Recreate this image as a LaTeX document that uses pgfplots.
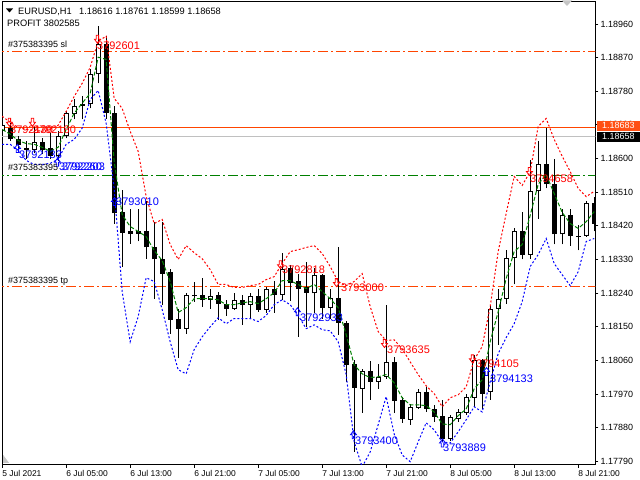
\documentclass[border=0pt]{standalone}
\usepackage{fontspec}
\setmainfont{Liberation Sans}
\usepackage{pgfplots}
\usepackage{pgfplotstable}
\pgfplotsset{compat=1.18}

\definecolor{mtred}{RGB}{255,0,0}
\definecolor{mtblue}{RGB}{0,0,255}
\definecolor{mtgreen}{RGB}{0,128,0}
\definecolor{oranred}{RGB}{255,69,0}
\definecolor{boxorange}{RGB}{255,80,20}
\definecolor{bidgray}{RGB}{192,192,192}

\newcommand\hdr{\fontsize{9.3}{11}\selectfont}
\newcommand\obj{\fontsize{9}{10}\selectfont}
\newcommand\lbl{\fontsize{11}{12}\selectfont}
\newcommand\tck{\fontsize{9}{10}\selectfont}

% trade arrows
\pgfdeclareplotmark{dnarr}{%
  \pgfpathmoveto{\pgfqpoint{-1.2bp}{4bp}}%
  \pgfpathlineto{\pgfqpoint{1.2bp}{4bp}}%
  \pgfpathlineto{\pgfqpoint{1.2bp}{0bp}}%
  \pgfpathlineto{\pgfqpoint{3bp}{0bp}}%
  \pgfpathlineto{\pgfqpoint{0bp}{-4bp}}%
  \pgfpathlineto{\pgfqpoint{-3bp}{0bp}}%
  \pgfpathlineto{\pgfqpoint{-1.2bp}{0bp}}%
  \pgfpathclose\pgfusepathqstroke}
\pgfdeclareplotmark{uparr}{%
  \pgfpathmoveto{\pgfqpoint{-1.2bp}{-4bp}}%
  \pgfpathlineto{\pgfqpoint{1.2bp}{-4bp}}%
  \pgfpathlineto{\pgfqpoint{1.2bp}{0bp}}%
  \pgfpathlineto{\pgfqpoint{3bp}{0bp}}%
  \pgfpathlineto{\pgfqpoint{0bp}{4bp}}%
  \pgfpathlineto{\pgfqpoint{-3bp}{0bp}}%
  \pgfpathlineto{\pgfqpoint{-1.2bp}{0bp}}%
  \pgfpathclose\pgfusepathqstroke}

% H1 bars: open high low close, upper band, middle, lower band
\pgfplotstableread{
i o h l c up mid dn
0 1.18673 1.18697 1.18665 1.18689 1.18713 1.18678 1.18638
1 1.18681 1.18694 1.18648 1.18651 1.18697 1.18665 1.18638
2 1.18651 1.18659 1.18624 1.18635 1.18683 1.18648 1.18622
3 1.18627 1.18646 1.18600 1.18624 1.18678 1.18640 1.18595
4 1.18624 1.18683 1.18614 1.18643 1.18675 1.18638 1.18584
5 1.18643 1.18654 1.18611 1.18624 1.18673 1.18630 1.18584
6 1.18627 1.18667 1.18600 1.18606 1.18678 1.18619 1.18587
7 1.18606 1.18673 1.18592 1.18659 1.18689 1.18630 1.18598
8 1.18659 1.18726 1.18654 1.18721 1.18726 1.18678 1.18638
9 1.18718 1.18758 1.18705 1.18740 1.18766 1.18721 1.18651
10 1.18740 1.18766 1.18705 1.18745 1.18801 1.18748 1.18681
11 1.18745 1.18839 1.18734 1.18825 1.18844 1.18774 1.18758
12 1.18825 1.18954 1.18801 1.18906 1.18914 1.18871 1.18782
13 1.18906 1.18927 1.18707 1.18721 1.18927 1.18865 1.18694
14 1.18723 1.18740 1.18426 1.18453 1.18761 1.18592 1.18520
15 1.18456 1.18517 1.18311 1.18402 1.18734 1.18450 1.18244
16 1.18405 1.18466 1.18372 1.18399 1.18673 1.18418 1.18110
17 1.18399 1.18466 1.18378 1.18405 1.18619 1.18405 1.18177
18 1.18405 1.18485 1.18332 1.18362 1.18498 1.18391 1.18281
19 1.18362 1.18431 1.18225 1.18330 1.18426 1.18354 1.18271
20 1.18330 1.18429 1.18209 1.18292 1.18437 1.18327 1.18196
21 1.18297 1.18305 1.18131 1.18169 1.18370 1.18271 1.18110
22 1.18172 1.18198 1.18067 1.18145 1.18330 1.18188 1.18035
23 1.18145 1.18239 1.18131 1.18236 1.18367 1.18201 1.18024
24 1.18236 1.18271 1.18217 1.18231 1.18348 1.18225 1.18089
25 1.18236 1.18281 1.18204 1.18222 1.18332 1.18225 1.18123
26 1.18222 1.18252 1.18198 1.18233 1.18303 1.18225 1.18150
27 1.18236 1.18244 1.18169 1.18212 1.18263 1.18222 1.18174
28 1.18212 1.18222 1.18180 1.18198 1.18263 1.18209 1.18158
29 1.18198 1.18239 1.18196 1.18222 1.18255 1.18209 1.18172
30 1.18222 1.18236 1.18155 1.18209 1.18255 1.18214 1.18172
31 1.18209 1.18241 1.18174 1.18233 1.18260 1.18217 1.18172
32 1.18233 1.18252 1.18190 1.18196 1.18263 1.18212 1.18164
33 1.18196 1.18255 1.18188 1.18252 1.18276 1.18225 1.18180
34 1.18252 1.18273 1.18188 1.18236 1.18284 1.18241 1.18209
35 1.18236 1.18346 1.18222 1.18305 1.18319 1.18273 1.18222
36 1.18308 1.18316 1.18220 1.18268 1.18351 1.18273 1.18209
37 1.18271 1.18292 1.18123 1.18252 1.18356 1.18263 1.18180
38 1.18255 1.18324 1.18150 1.18241 1.18362 1.18252 1.18145
39 1.18239 1.18308 1.18188 1.18289 1.18367 1.18263 1.18155
40 1.18289 1.18292 1.18172 1.18201 1.18346 1.18244 1.18142
41 1.18201 1.18252 1.18172 1.18228 1.18311 1.18225 1.18139
42 1.18228 1.18364 1.18129 1.18161 1.18271 1.18201 1.18110
43 1.18161 1.18164 1.18003 1.18048 1.18260 1.18129 1.18022
44 1.18051 1.18062 1.17815 1.17987 1.18271 1.18048 1.17842
45 1.17984 1.18038 1.17920 1.18032 1.18292 1.18024 1.17775
46 1.18032 1.18059 1.17955 1.18003 1.18204 1.18014 1.17815
47 1.18003 1.18051 1.17984 1.18016 1.18137 1.18016 1.17888
48 1.18016 1.18209 1.18011 1.18056 1.18113 1.18022 1.17963
49 1.18056 1.18070 1.17920 1.17952 1.18115 1.18000 1.17863
50 1.17955 1.17963 1.17893 1.17904 1.18091 1.17960 1.17807
51 1.17901 1.17944 1.17888 1.17936 1.18056 1.17941 1.17789
52 1.17933 1.17984 1.17930 1.17976 1.18022 1.17941 1.17842
53 1.17976 1.17989 1.17922 1.17930 1.17992 1.17939 1.17893
54 1.17930 1.17941 1.17896 1.17909 1.17971 1.17922 1.17874
55 1.17912 1.17955 1.17842 1.17850 1.17936 1.17890 1.17842
56 1.17850 1.17914 1.17845 1.17909 1.17960 1.17888 1.17839
57 1.17904 1.17930 1.17896 1.17922 1.17968 1.17912 1.17869
58 1.17920 1.17971 1.17914 1.17963 1.17989 1.17930 1.17901
59 1.17960 1.18075 1.17936 1.18062 1.18062 1.17984 1.17936
60 1.18062 1.18064 1.17930 1.17971 1.18097 1.18008 1.17922
61 1.17976 1.18209 1.17955 1.18198 1.18204 1.18110 1.18003
62 1.18198 1.18252 1.18102 1.18225 1.18351 1.18190 1.18078
63 1.18225 1.18356 1.18212 1.18335 1.18453 1.18279 1.18121
64 1.18335 1.18413 1.18263 1.18407 1.18552 1.18351 1.18158
65 1.18407 1.18458 1.18330 1.18343 1.18528 1.18370 1.18217
66 1.18343 1.18595 1.18332 1.18514 1.18565 1.18448 1.18311
67 1.18514 1.18648 1.18439 1.18584 1.18686 1.18531 1.18343
68 1.18584 1.18681 1.18520 1.18531 1.18707 1.18557 1.18386
69 1.18531 1.18598 1.18370 1.18397 1.18651 1.18506 1.18319
70 1.18397 1.18464 1.18370 1.18448 1.18606 1.18456 1.18289
71 1.18448 1.18466 1.18367 1.18394 1.18565 1.18426 1.18260
72 1.18394 1.18423 1.18354 1.18391 1.18520 1.18413 1.18297
73 1.18394 1.18485 1.18391 1.18482 1.18498 1.18431 1.18378
74 1.18482 1.18498 1.18405 1.18426 1.18512 1.18458 1.18386
}\candles

\begin{document}
\begin{tikzpicture}[x=1bp,y=1bp]
\useasboundingbox (0,0) rectangle (640,-480);
\begin{axis}[
    at={(2.7,-0.5)}, anchor=north west,
    scale only axis, width=593.3bp, height=462.8bp,
    xmin=0, xmax=74.16, ymin=1.17781, ymax=1.19019,
    axis line style={black, line width=1bp},
    tick align=outside, major tick length=3bp,
    tick style={black, line width=0.8bp},
    xtick pos=left, ytick pos=right, yticklabel pos=right,
    xtick={0,8,16,24,32,40,48,56,64,72},
    xticklabels={5 Jul 2021, 6 Jul 05:00, 6 Jul 13:00, 6 Jul 21:00, 7 Jul 05:00,
                 7 Jul 13:00, 7 Jul 21:00, 8 Jul 05:00, 8 Jul 13:00, 8 Jul 21:00},
    ytick={1.1779,1.1788,1.1797,1.1806,1.1815,1.1824,1.1833,1.1842,1.1851,1.1860,1.1869,1.1878,1.1887,1.1896},
    yticklabels={1.17790,1.17880,1.17970,1.18060,1.18150,1.18240,1.18330,1.18420,1.18510,1.18600,1.18690,1.18780,1.18870,1.18960},
    xticklabel style={font=\fontsize{8.5}{10}\selectfont, anchor=north west, inner sep=0pt, yshift=-2bp},
    yticklabel style={font=\tck, anchor=west, inner sep=0pt, xshift=2bp},
    candle/.style={draw=none, mark=none,
        error bars/y dir=plus, error bars/y explicit, error bars/error mark=none},
    orderline/.style={line width=1bp, dash pattern=on 10bp off 3bp on 2bp off 3bp},
]
% order lines: sl, entry, tp, and the two price lines
\addplot[oranred, orderline] coordinates {(-1,1.18885) (76,1.18885)};
\addplot[mtgreen, orderline] coordinates {(-1,1.18554) (76,1.18554)};
\addplot[oranred, orderline] coordinates {(-1,1.18257) (76,1.18257)};
\addplot[oranred, line width=1bp] coordinates {(-1,1.18682) (76,1.18682)};
\addplot[bidgray, line width=1bp] coordinates {(-1,1.18658) (76,1.18658)};

% wicks
\addplot[candle, error bars/error bar style={draw=black, solid, line width=1bp}]
    table[x=i, y=l, y error plus expr=\thisrow{h}-\thisrow{l}] {\candles};
% bodies
\addplot[candle, error bars/error bar style={draw=black, solid, line width=5bp}]
    table[x=i, y expr={min(\thisrow{o},\thisrow{c})}, y error plus expr={abs(\thisrow{c}-\thisrow{o})}] {\candles};
% white inside of rising bars
\addplot[candle, restrict expr to domain={\thisrow{c}-\thisrow{o}}{0.00007:1},
    error bars/error bar style={draw=white, solid, line width=3bp}]
    table[x=i, y expr={\thisrow{o}+0.0000268}, y error plus expr={\thisrow{c}-\thisrow{o}-0.0000536}] {\candles};

% indicator
\addplot[mtred, line width=1bp, dash pattern=on 2bp off 2bp] table[x=i, y=up] {\candles};
\addplot[mtblue, line width=1bp, dash pattern=on 2bp off 2bp] table[x=i, y=dn] {\candles};
\addplot[mtgreen, line width=1bp, dash pattern=on 4bp off 2bp] table[x=i, y=mid] {\candles};

% trade arrows
\addplot[only marks, mark=dnarr, mtred, mark options={solid, line width=0.8bp}] coordinates {
 (0.91,1.18697) (3.79,1.18697) (11.91,1.18919) (34.79,1.18316) (41.79,1.18268) (47.79,1.18105) (58.79,1.18064) (65.91,1.18565)};
\addplot[only marks, mark=uparr, mtblue, mark options={solid, line width=0.8bp}] coordinates {
 (1.91,1.18627) (6.91,1.18590) (14.04,1.18485) (36.91,1.18190) (43.91,1.17861) (55.04,1.17839) (60.54,1.18030)};
\end{axis}

% header
\fill (6,-8.5) -- (13,-8.5) -- (9.5,-12.5) -- cycle;
\node[anchor=base west, inner sep=0pt, font=\hdr] at (18,-15) {EURUSD,H1};
\node[anchor=base west, inner sep=0pt, font=\hdr] at (79,-15) {1.18616 1.18761 1.18599 1.18658};
\node[anchor=base west, inner sep=0pt, font=\hdr] at (7,-27) {PROFIT 3802585};

% order labels
\node[anchor=base west, inner sep=0pt, font=\obj] at (8,-48) {\#375383395 sl};
\node[anchor=base west, inner sep=0pt, font=\obj] at (8,-171) {\#375383395};
\node[anchor=base west, inner sep=0pt, font=\obj] at (8,-283) {\#375383395 tp};
\node[anchor=west, inner sep=0pt, font=\lbl, text=mtblue] at (59,-167) {3792260};
\node[anchor=west, inner sep=0pt, font=\lbl, text=mtblue] at (62,-167) {3792203};

% trade labels
\begin{scope}[every node/.style={anchor=west, inner sep=0pt, font=\lbl}]
\node[text=mtred] at (10,-130) {3792130};
\node[text=mtred] at (33,-130) {3792180};
\node[text=mtred] at (97,-46) {3792601};
\node[text=mtred] at (282,-270) {3792818};
\node[text=mtred] at (341,-288) {3793000};
\node[text=mtred] at (387,-350) {3793635};
\node[text=mtred] at (476,-364) {3794105};
\node[text=mtred] at (530,-179) {3794658};
\node[text=mtblue] at (19,-155) {3792133};
\node[text=mtblue] at (116,-202) {3793010};
\node[text=mtblue] at (300,-318) {3792933};
\node[text=mtblue] at (355,-441) {3793400};
\node[text=mtblue] at (443,-448) {3793889};
\node[text=mtblue] at (490,-379) {3794133};
\end{scope}

% price boxes on the scale
\fill[boxorange] (596.5,-120.7) rectangle (640,-130.7);
\node[anchor=west, inner sep=0pt, font=\tck, text=white] at (602,-125.7) {1.18683};
\fill[black] (596.5,-131.7) rectangle (640,-141.7);
\node[anchor=west, inner sep=0pt, font=\tck, text=white] at (602,-136.7) {1.18658};

% chart shift markers
\fill[gray!45] (3.2,-455) -- (3.2,-462.8) -- (9,-462.8) -- cycle;
\fill[gray!45] (562,-0.5) -- (572,-0.5) -- (567,-6) -- cycle;
\end{tikzpicture}
\end{document}
